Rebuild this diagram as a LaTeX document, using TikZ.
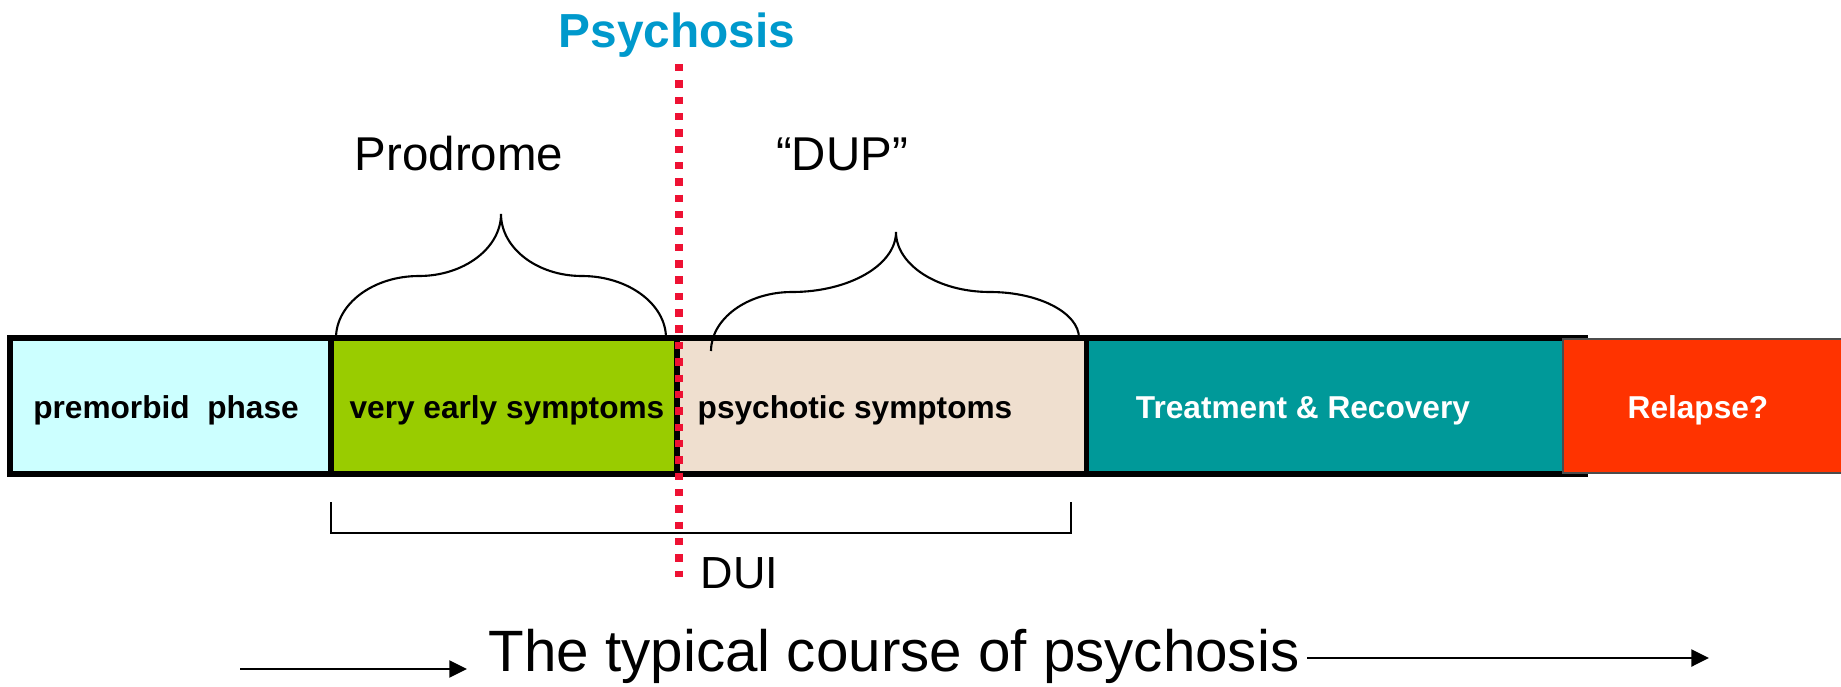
\documentclass[tikz,border=0pt]{standalone}
\usepackage{fontspec}
\setmainfont{Liberation Sans}
\usetikzlibrary{positioning,arrows.meta}

\definecolor{premorbid}{HTML}{CCFFFF}
\definecolor{early}{HTML}{99CC00}
\definecolor{psychotic}{HTML}{EFDFCF}
\definecolor{recovery}{HTML}{009999}
\definecolor{relapse}{HTML}{FF3300}
\definecolor{onset}{HTML}{0099CC}
\definecolor{onsetred}{HTML}{EE1133}

\begin{document}
\begin{tikzpicture}[x=1cm,y=1cm]
        \tikzstyle{phase box}=[
            draw=black, line width=1.5pt, inner sep=0pt, outer sep=0pt, minimum height=1.36cm,
        ]
        \tikzstyle{phase label}=[anchor=base, inner sep=0pt, font=\fontsize{9}{11}\selectfont\bfseries]
        \tikzstyle{heading}=[anchor=base, inner sep=0pt, font=\fontsize{13.5}{16}\selectfont]
        \tikzstyle{brace}=[line width=0.6pt]
        \tikzstyle{onset line}=[draw=onsetred, line width=2.3pt, dash pattern=on 2.1pt off 2.55pt]
        \tikzstyle{time arrow}=[line width=0.7pt, -{Triangle[length=5pt, width=4.8pt]}]

        \useasboundingbox (0,0) rectangle (18.41,6.86);

        % Draw the phases of the bar
        \node[phase box, fill=premorbid, minimum width=3.21cm] (pre) at (1.705,2.80) {};
        \node[phase box, fill=early, minimum width=3.46cm, right=0pt of pre] (early) {};
        \node[phase box, fill=psychotic, minimum width=4.095cm, right=0pt of early] (psychotic) {};
        \node[phase box, fill=recovery, minimum width=4.985cm, right=0pt of psychotic] (recovery) {};
        \node[draw=black!70, line width=0.4pt, fill=relapse, inner sep=0pt, outer sep=0pt,
            minimum width=2.82cm, minimum height=1.34cm] (relapse) at (17.04,2.80) {};

        % Phase names
        \node[phase label] (pre-l) at (1.66,2.68) {premorbid\ \ phase};
        \node[phase label] (early-l) at (5.07,2.68) {very early symptoms};
        \node[phase label] (psychotic-l) at (8.55,2.68) {psychotic symptoms};
        \node[phase label, text=white] (recovery-l) at (13.03,2.68) {Treatment \& Recovery};
        \node[phase label, text=white] (relapse-l) at (16.98,2.68) {Relapse?};

        % Annotate the periods
        \node[anchor=base, inner sep=0pt, text=onset, font=\fontsize{13.6}{16}\selectfont\bfseries]
            (psychosis) at (6.77,6.39) {Psychosis};
        \node[heading] (prodrome) at (4.59,5.16) {Prodrome};
        \node[heading] (dup) at (8.42,5.16) {“DUP”};
        \node[heading, anchor=base west, font=\fontsize{12.8}{15}\selectfont] (dui) at (7.00,0.98) {DUI};
        \node[anchor=base west, inner sep=0pt, font=\fontsize{16.6}{19}\selectfont]
            (course) at (4.88,0.15) {The typical course of psychosis};

        % Braces over the prodrome and the DUP
        \coordinate (b1-l) at (3.36,3.48);
        \coordinate (b1-sl) at (4.19,4.10);
        \coordinate (b1-t) at (5.01,4.72);
        \coordinate (b1-sr) at (5.82,4.10);
        \coordinate (b1-r) at (6.66,3.48);
        \draw[brace] (b1-l) .. controls +(0,0.34) and +(-0.46,0) .. (b1-sl)
            .. controls +(0.45,0) and +(0,-0.34) .. (b1-t)
            .. controls +(0,-0.34) and +(-0.45,0) .. (b1-sr)
            .. controls +(0.46,0) and +(0,0.34) .. (b1-r);

        \coordinate (b2-l) at (7.11,3.35);
        \coordinate (b2-sl) at (7.92,3.94);
        \coordinate (b2-t) at (8.96,4.54);
        \coordinate (b2-sr) at (9.90,3.94);
        \coordinate (b2-r) at (10.79,3.48);
        \draw[brace] (b2-l) .. controls +(0,0.32) and +(-0.45,0) .. (b2-sl)
            .. controls +(0.57,0) and +(0,-0.33) .. (b2-t)
            .. controls +(0,-0.33) and +(-0.52,0) .. (b2-sr)
            .. controls +(0.49,0) and +(0,0.25) .. (b2-r);

        % Bracket for the DUI
        \coordinate (dui-l) at (3.31,1.84);
        \coordinate (dui-r) at (10.71,1.84);
        \draw[brace] (dui-l) -- ++(0,-0.31) -| (dui-r);

        % Time arrows
        \coordinate (t0) at (2.40,0.17);
        \coordinate (t1) at (4.67,0.17);
        \coordinate (t2) at (13.07,0.28);
        \coordinate (t3) at (17.09,0.28);
        \draw[time arrow] (t0) -- (t1);
        \draw[time arrow] (t2) -- (t3);

        % Onset of psychosis
        \coordinate (onset-top) at (6.79,6.22);
        \coordinate (onset-bot) at (6.79,1.09);
        \draw[onset line] (onset-top) -- (onset-bot);
\end{tikzpicture}
\end{document}
